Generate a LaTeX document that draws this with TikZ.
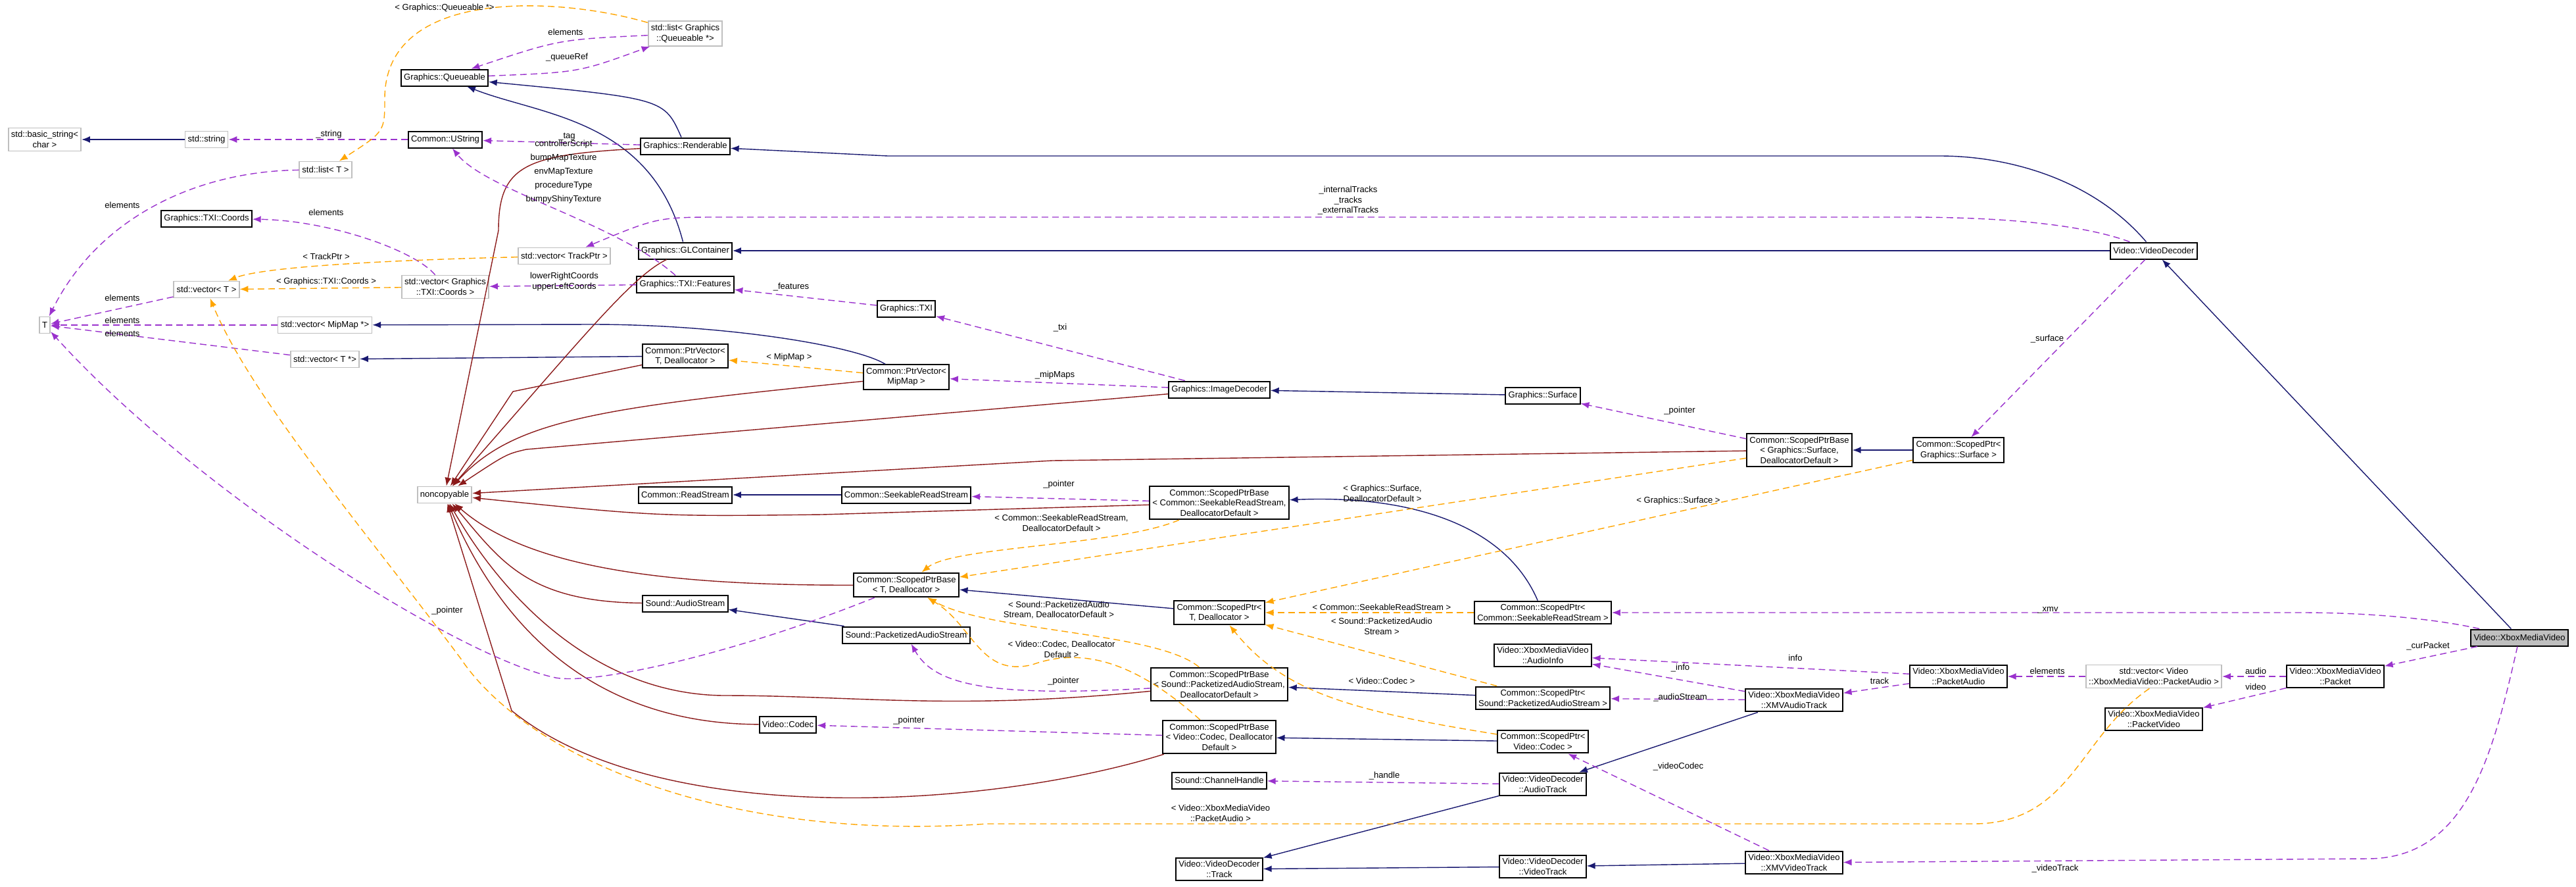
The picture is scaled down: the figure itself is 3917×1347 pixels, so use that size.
\documentclass[tikz,border=0pt]{standalone}
\usepackage{fontspec}
\setmainfont{Liberation Sans}
\usetikzlibrary{arrows.meta}
\definecolor{inhblue}{HTML}{191970}
\definecolor{privred}{HTML}{8B1A1A}
\definecolor{usepurple}{HTML}{9A32CD}
\definecolor{tplorange}{HTML}{FFA500}
\definecolor{extgray}{HTML}{BFBFBF}

\begin{document}
\begin{tikzpicture}[x=0.25mm, y=-0.25mm, >={Latex[length=3.2mm,width=2.5mm]}]
        % ================= styles =================
        \tikzset{
            % class boxes
            cls/.style={draw=black, line width=0.5mm, fill=white, align=center, inner xsep=3pt, inner ysep=3.5pt,
                minimum height=6.25mm, font=\fontsize{9.3}{11}\selectfont},
            ext/.style={cls, draw=extgray, line width=0.45mm},
            cur/.style={cls, fill=black!25},
            % edge labels
            lbl/.style={align=center, inner sep=0pt, font=\fontsize{9.3}{11}\selectfont},
            % connectors
            inh/.style={->, draw=inhblue, line width=0.35mm},
            priv/.style={->, draw=privred, line width=0.35mm},
            use/.style={->, draw=usepurple, line width=0.35mm, dash pattern=on 2.5mm off 1.5mm},
            tpl/.style={->, draw=tplorange, line width=0.35mm, dash pattern=on 2.5mm off 1.5mm}
        }
        \useasboundingbox (0,0) rectangle (3917,1347);

        % ================= nodes: left part =================
        \node[ext] (bstr) at (68,212) {std::basic\_string<\\char >};
        \node[ext] (sstr) at (314,212) {std::string};
        \node[cls] (ustr) at (677,212) {Common::UString};
        \node[cls] (que) at (676,118) {Graphics::Queueable};
        \node[ext] (lstq) at (1042,51) {std::list< Graphics\\::Queueable *>};
        \node[ext] (lstT) at (495,258) {std::list< T >};
        \node[cls] (coords) at (314,332) {Graphics::TXI::Coords};
        \node[ext] (vtp) at (858,389) {std::vector< TrackPtr >};
        \node[ext] (vco) at (677,436) {std::vector< Graphics\\::TXI::Coords >};
        \node[ext] (vT) at (314,440) {std::vector< T >};
        \node[ext] (tt) at (68,494) {T};
        \node[ext] (vmip) at (494,494) {std::vector< MipMap *>};
        \node[ext] (vts) at (494,546) {std::vector< T *>};
        \node[ext] (nonc) at (676,752) {noncopyable};

        % ================= nodes: middle =================
        \node[cls] (rend) at (1042,222) {Graphics::Renderable};
        \node[cls] (glc) at (1042,381) {Graphics::GLContainer};
        \node[cls] (feat) at (1042,432) {Graphics::TXI::Features};
        \node[cls] (txi) at (1378,469) {Graphics::TXI};
        \node[cls] (ptrv) at (1042,541) {Common::PtrVector<\\T, Deallocator >};
        \node[cls] (ptrm) at (1378,573) {Common::PtrVector<\\MipMap >};
        \node[cls] (imgd) at (1854,592) {Graphics::ImageDecoder};
        \node[cls] (surf) at (2346,601) {Graphics::Surface};
        \node[cls] (read) at (1042,752) {Common::ReadStream};
        \node[cls] (seek) at (1378,752) {Common::SeekableReadStream};
        \node[cls] (spbk) at (1854,764) {Common::ScopedPtrBase\\< Common::SeekableReadStream,\\DeallocatorDefault >};
        \node[cls] (spbt) at (1378,889) {Common::ScopedPtrBase\\< T, Deallocator >};
        \node[cls] (aud) at (1042,917) {Sound::AudioStream};
        \node[cls] (spt) at (1854,931) {Common::ScopedPtr<\\T, Deallocator >};
        \node[cls] (pas) at (1378,965) {Sound::PacketizedAudioStream};
        \node[cls] (spbp) at (1854,1040) {Common::ScopedPtrBase\\< Sound::PacketizedAudioStream,\\DeallocatorDefault >};
        \node[cls] (codec) at (1198,1101) {Video::Codec};
        \node[cls] (spbc) at (1854,1120) {Common::ScopedPtrBase\\< Video::Codec, Deallocator\\Default >};
        \node[cls] (chan) at (1854,1186) {Sound::ChannelHandle};
        \node[cls] (trk) at (1854,1321) {Video::VideoDecoder\\::Track};

        % ================= nodes: right part =================
        \node[cls] (spbs) at (2736,684) {Common::ScopedPtrBase\\< Graphics::Surface,\\DeallocatorDefault >};
        \node[cls] (spS) at (2978,684) {Common::ScopedPtr<\\Graphics::Surface >};
        \node[cls] (vdec) at (3275,381) {Video::VideoDecoder};
        \node[cur] (xmv) at (3831,969) {Video::XboxMediaVideo};
        \node[cls] (pkt) at (3551,1028) {Video::XboxMediaVideo\\::Packet};
        \node[ext] (vpa) at (3275,1028) {std::vector< Video\\::XboxMediaVideo::PacketAudio >};
        \node[cls] (pa) at (2978,1028) {Video::XboxMediaVideo\\::PacketAudio};
        \node[cls] (pvid) at (3275,1093) {Video::XboxMediaVideo\\::PacketVideo};
        \node[cls] (spk) at (2346,931) {Common::ScopedPtr<\\Common::SeekableReadStream >};
        \node[cls] (ainfo) at (2346,996) {Video::XboxMediaVideo\\::AudioInfo};
        \node[cls] (spp) at (2346,1061) {Common::ScopedPtr<\\Sound::PacketizedAudioStream >};
        \node[cls] (spc) at (2346,1127) {Common::ScopedPtr<\\Video::Codec >};
        \node[cls] (atrk) at (2346,1192) {Video::VideoDecoder\\::AudioTrack};
        \node[cls] (vtrk) at (2346,1317) {Video::VideoDecoder\\::VideoTrack};
        \node[cls] (xmva) at (2728,1064) {Video::XboxMediaVideo\\::XMVAudioTrack};
        \node[cls] (xmvv) at (2728,1311) {Video::XboxMediaVideo\\::XMVVideoTrack};

        % ================= public inheritance =================
        \draw[inh] (sstr) -- (bstr);
        \draw[inh] (rend) .. controls (1010,150) .. (que);
        \draw[inh] (glc) .. controls (990,180) and (820,175) .. (que);
        \draw[inh] (vdec) .. controls (3180,270) and (3050,237) .. (2950,237) -- (1350,237) -- (rend);
        \draw[inh] (vdec) -- (glc);
        \draw[inh] (xmv) -- (vdec);
        \draw[inh] (ptrm) .. controls (1300,525) and (1100,493) .. (900,493) -- (vmip);
        \draw[inh] (ptrv) -- (vts);
        \draw[inh] (surf) -- (imgd);
        \draw[inh] (spS) -- (spbs);
        \draw[inh] (seek) -- (read);
        \draw[inh] (spk) .. controls (2290,800) and (2150,752) .. (spbk);
        \draw[inh] (spt) -- (spbt);
        \draw[inh] (pas) -- (aud);
        \draw[inh] (spp) -- (spbp);
        \draw[inh] (spc) -- (spbc);
        \draw[inh] (xmva) -- (atrk);
        \draw[inh] (atrk) -- (trk);
        \draw[inh] (vtrk) -- (trk);
        \draw[inh] (xmvv) -- (vtrk);

        % ================= private inheritance =================
        \draw[priv] (rend) .. controls (800,235) and (758,250) .. (758,350) -- (nonc);
        \draw[priv] (glc) .. controls (960,420) and (880,520) .. (nonc);
        \draw[priv] (ptrv) -- (780,595) -- (nonc);
        \draw[priv] (ptrm) .. controls (900,620) and (780,640) .. (nonc);
        \draw[priv] (imgd) -- (800,683) .. controls (770,690) .. (nonc);
        \draw[priv] (spbs) -- (1600,700) -- (nonc);
        \draw[priv] (spbk) -- (1250,782) .. controls (1000,785) .. (nonc);
        \draw[priv] (spbt) .. controls (1000,890) and (800,860) .. (nonc);
        \draw[priv] (aud) .. controls (800,915) and (760,850) .. (nonc);
        \draw[priv] (spbp) .. controls (1450,1080) and (1300,1057) .. (1100,1057) .. controls (900,1055) and (760,900) .. (nonc);
        \draw[priv] (codec) .. controls (900,1100) and (760,950) .. (nonc);
        \draw[priv] (spbc) .. controls (1500,1230) and (1000,1260) .. (778,1080) -- (nonc);

        % ================= usage =================
        \draw[use] (lstq) .. controls (850,60) .. (que);
        \draw[use] (que) .. controls (880,110) .. (lstq);
        \draw[use] (ustr) -- (sstr);
        \draw[use] (rend) -- (ustr);
        \draw[use] (feat) .. controls (940,340) and (740,290) .. (ustr);
        \draw[use] (lstT) .. controls (300,260) and (150,330) .. (tt);
        \draw[use] (vco) .. controls (630,380) and (500,335) .. (coords);
        \draw[use] (feat) -- (vco);
        \draw[use] (txi) -- (feat);
        \draw[use] (imgd) -- (txi);
        \draw[use] (imgd) -- (ptrm);
        \draw[use] (vT) -- (tt);
        \draw[use] (vmip) -- (tt);
        \draw[use] (vts) -- (tt);
        \draw[use] (vdec) .. controls (3150,335) and (3000,330) .. (2900,330) -- (1100,330) .. controls (1000,330) .. (vtp);
        \draw[use] (vdec) -- (spS);
        \draw[use] (spbs) -- (surf);
        \draw[use] (spbk) -- (seek);
        \draw[use] (spbt) .. controls (1100,1000) and (900,1040) .. (845,1030) .. controls (700,1000) and (300,750) .. (tt);
        \draw[use] (spbp) .. controls (1500,1060) and (1420,1040) .. (pas);
        \draw[use] (spbc) -- (codec);
        \draw[use] (xmv) .. controls (3700,940) and (3600,931) .. (3500,931) -- (spk);
        \draw[use] (xmva) -- (ainfo);
        \draw[use] (pa) -- (ainfo);
        \draw[use] (pa) -- (xmva);
        \draw[use] (xmva) -- (spp);
        \draw[use] (xmvv) -- (spc);
        \draw[use] (atrk) -- (chan);
        \draw[use] (vpa) -- (pa);
        \draw[use] (pkt) -- (vpa);
        \draw[use] (pkt) -- (pvid);
        \draw[use] (xmv) -- (pkt);
        \draw[use] (xmv) .. controls (3790,1150) and (3750,1305) .. (3600,1305) -- (xmvv);

        % ================= template instances =================
        \draw[tpl] (lstq) .. controls (850,-5) and (585,-20) .. (585,150) .. controls (585,200) .. (lstT);
        \draw[tpl] (vtp) .. controls (600,395) and (400,405) .. (vT);
        \draw[tpl] (vco) -- (vT);
        \draw[tpl] (ptrm) -- (ptrv);
        \draw[tpl] (spbs) -- (spbt);
        \draw[tpl] (spbk) .. controls (1700,830) and (1450,830) .. (spbt);
        \draw[tpl] (spbp) .. controls (1760,960) and (1500,960) .. (spbt);
        \draw[tpl] (spbc) .. controls (1720,1000) and (1640,985) .. (1570,1010) .. controls (1490,1030) and (1480,950) .. (spbt);
        \draw[tpl] (spS) -- (spt);
        \draw[tpl] (spk) -- (spt);
        \draw[tpl] (spp) -- (spt);
        \draw[tpl] (spc) .. controls (2050,1080) and (1950,1050) .. (spt);
        \draw[tpl] (vpa.250) .. controls (3160,1120) and (3150,1252) .. (3000,1252) -- (1500,1252) .. controls (1100,1280) and (800,1150) .. (700,1000) .. controls (550,800) and (380,600) .. (vT);

        % ================= labels =================
        \node[lbl] (lq1) at (676,12) {< Graphics::Queueable *>};
        \node[lbl] (lq2) at (860,49) {elements};
        \node[lbl] (lq3) at (862,87) {\_queueRef};
        \node[lbl] (ls1) at (500,204) {\_string};
        \node[lbl] (ls2) at (862,208) {\_tag};
        \node[lbl, font=\fontsize{9.3}{15}\selectfont] (ls3) at (857,261) {controllerScript\\bumpMapTexture\\envMapTexture\\procedureType\\bumpyShinyTexture};
        \node[lbl] (le1) at (186,312) {elements};
        \node[lbl] (le2) at (496,323) {elements};
        \node[lbl] (lt1) at (496,390) {< TrackPtr >};
        \node[lbl] (lt2) at (496,428) {< Graphics::TXI::Coords >};
        \node[lbl] (lc1) at (858,428) {lowerRightCoords\\upperLeftCoords};
        \node[lbl] (lf1) at (1203,436) {\_features};
        \node[lbl] (le3) at (186,453) {elements};
        \node[lbl] (le4) at (186,487) {elements};
        \node[lbl] (le5) at (186,507) {elements};
        \node[lbl] (lm1) at (1200,543) {< MipMap >};
        \node[lbl] (lm2) at (1604,570) {\_mipMaps};
        \node[lbl] (lx1) at (1612,498) {\_txi};
        \node[lbl] (lp1) at (2554,624) {\_pointer};
        \node[lbl] (lv1) at (3113,515) {\_surface};
        \node[lbl] (lv2) at (2050,305) {\_internalTracks\\\_tracks\\\_externalTracks};
        \node[lbl] (lg1) at (2102,750) {< Graphics::Surface,\\DeallocatorDefault >};
        \node[lbl] (lg2) at (2552,761) {< Graphics::Surface >};
        \node[lbl] (lk1) at (1614,795) {< Common::SeekableReadStream,\\DeallocatorDefault >};
        \node[lbl] (lp2) at (1610,736) {\_pointer};
        \node[lbl] (lk2) at (1610,927) {< Sound::PacketizedAudio\\Stream, DeallocatorDefault >};
        \node[lbl] (lk3) at (1614,987) {< Video::Codec, Deallocator\\Default >};
        \node[lbl] (lp3) at (1617,1035) {\_pointer};
        \node[lbl] (lp4) at (1382,1095) {\_pointer};
        \node[lbl] (lp5) at (680,928) {\_pointer};
        \node[lbl] (lk4) at (2101,923) {< Common::SeekableReadStream >};
        \node[lbl] (lk5) at (2101,952) {< Sound::PacketizedAudio\\Stream >};
        \node[lbl] (lk6) at (2101,1035) {< Video::Codec >};
        \node[lbl] (lh1) at (2105,1179) {\_handle};
        \node[lbl] (lk7) at (1856,1236) {< Video::XboxMediaVideo\\::PacketAudio >};
        \node[lbl] (lr1) at (3114,927) {\_xmv};
        \node[lbl] (lr2) at (2730,1000) {info};
        \node[lbl] (lr3) at (2555,1015) {\_info};
        \node[lbl] (lr4) at (2858,1035) {track};
        \node[lbl] (lr5) at (2555,1060) {\_audioStream};
        \node[lbl] (lr6) at (2552,1165) {\_videoCodec};
        \node[lbl] (lr7) at (3113,1020) {elements};
        \node[lbl] (lr8) at (3430,1020) {audio};
        \node[lbl] (lr9) at (3430,1044) {video};
        \node[lbl] (lr10) at (3692,982) {\_curPacket};
        \node[lbl] (lr11) at (3125,1320) {\_videoTrack};

    \end{tikzpicture}
\end{document}
